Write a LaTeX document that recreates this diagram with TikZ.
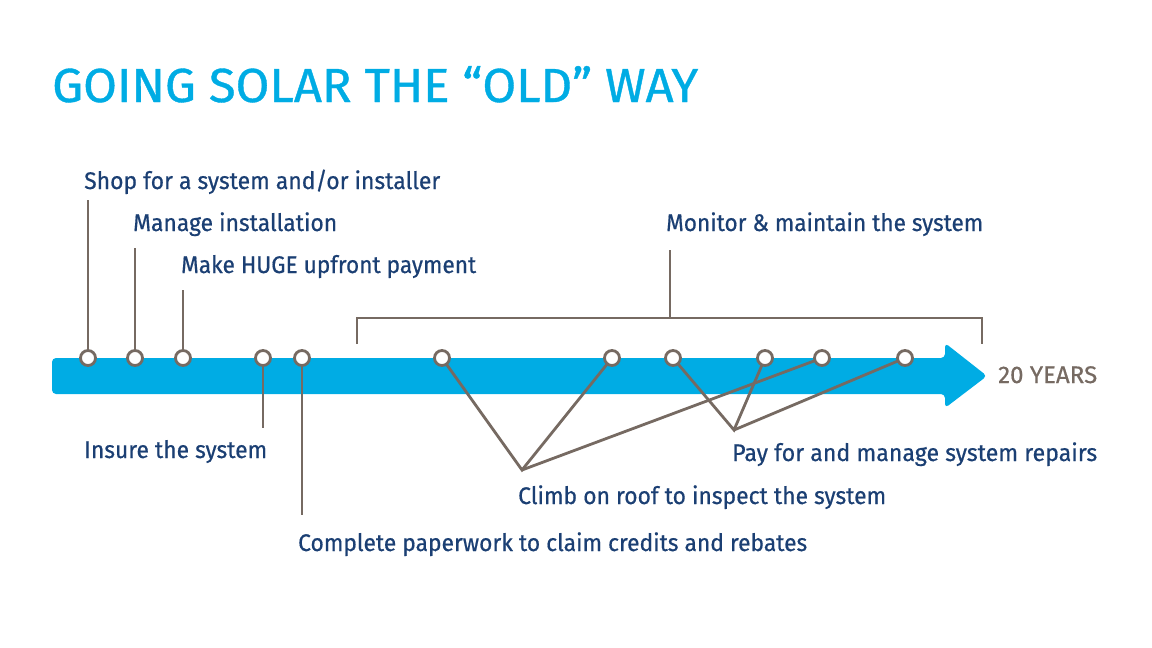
\documentclass[tikz,border=0pt]{standalone}
\usepackage{fontspec}
\usepackage{graphicx}
\setmainfont{Fira Sans}
\newfontfamily\lblfont[FakeBold=0.6]{Fira Sans}
\newfontfamily\ttlfont[FakeBold=0.8]{Fira Sans}
\definecolor{solarblue}{HTML}{00ACE4}
\definecolor{navy}{HTML}{1B3F73}
\definecolor{lgray}{HTML}{766A62}
\newcommand\fitw[2]{\resizebox{#1}{\height}{#2}}
\tikzset{
  lbl/.style={anchor=base west, inner sep=0pt, text=navy, font=\lblfont\fontsize{24}{24}\selectfont},
  dot/.style={circle, draw=lgray, fill=white, line width=2.8pt, minimum size=15pt, inner sep=0pt},
  conn/.style={draw=lgray, line width=2.8pt},
}
\begin{document}
\begin{tikzpicture}[x=1pt,y=-1pt]
\useasboundingbox (0,0) rectangle (1152,648);
% title
\node[anchor=base west, inner sep=0pt, text=solarblue, font=\ttlfont\fontsize{52}{52}\selectfont] (title) at (52,102) {\resizebox{646pt}{36pt}{GOING SOLAR THE “OLD” WAY}};
% arrow
\fill[solarblue, rounded corners=4pt] (52,358) -- (945,358) -- (945,343) -- (987,376) -- (945,408) -- (945,394) -- (52,394) -- cycle;
\node[anchor=base west, inner sep=0pt, text=lgray, font=\lblfont\fontsize{24}{24}\selectfont] (yrs) at (998,383) {\fitw{99pt}{20 YEARS}};
% bracket
\coordinate (bl) at (357,344);
\coordinate (br) at (982,344);
\coordinate (bm) at (670,318);
\coordinate (bt) at (670,250);
\draw[conn, line cap=butt] (bl) |- (br |- bm) -- (br);
\draw[conn] (bm) -- (bt);
% labels
\node[lbl] (shop) at (84,189) {\fitw{356pt}{Shop for a system and/or installer}};
\node[lbl] (manage) at (133,231) {\fitw{204pt}{Manage installation}};
\node[lbl] (make) at (181,273) {\fitw{295pt}{Make HUGE upfront payment}};
\node[lbl] (monitor) at (666,231) {\fitw{317pt}{Monitor \& maintain the system}};
\node[lbl] (insure) at (84,458) {\fitw{183pt}{Insure the system}};
\node[lbl] (complete) at (298,551) {\fitw{509pt}{Complete paperwork to claim credits and rebates}};
\node[lbl] (climb) at (518,504) {\fitw{368pt}{Climb on roof to inspect the system}};
\node[lbl] (pay) at (732,461) {\fitw{365pt}{Pay for and manage system repairs}};
% line ends
\coordinate (u1) at (88,200);
\coordinate (u2) at (135,248);
\coordinate (u3) at (183,290);
\coordinate (d1) at (263,428);
\coordinate (d2) at (302,515);
\coordinate (vc) at (522,470);
\coordinate (vp) at (734,430);
% dots
\foreach \n/\x in {c1/88,c2/135,c3/183,c4/263,c5/302,c6/442,c7/612,c8/673,c9/765,c10/822,c11/905}
  \coordinate (\n) at (\x,358);
% connectors
\draw[conn] (c1) -- (u1);
\draw[conn] (c2) -- (u2);
\draw[conn] (c3) -- (u3);
\draw[conn] (c4) -- (d1);
\draw[conn] (c5) -- (d2);
\draw[conn, line join=miter] (c6) -- (vc) -- (c7);
\draw[conn] (vc) -- (c10);
\draw[conn, line join=miter] (c8) -- (vp) -- (c9);
\draw[conn] (vp) -- (c11);
\foreach \n in {c1,c2,c3,c4,c5,c6,c7,c8,c9,c10,c11}
  \node[dot] (d\n) at (\n) {};
\end{tikzpicture}
\end{document}
